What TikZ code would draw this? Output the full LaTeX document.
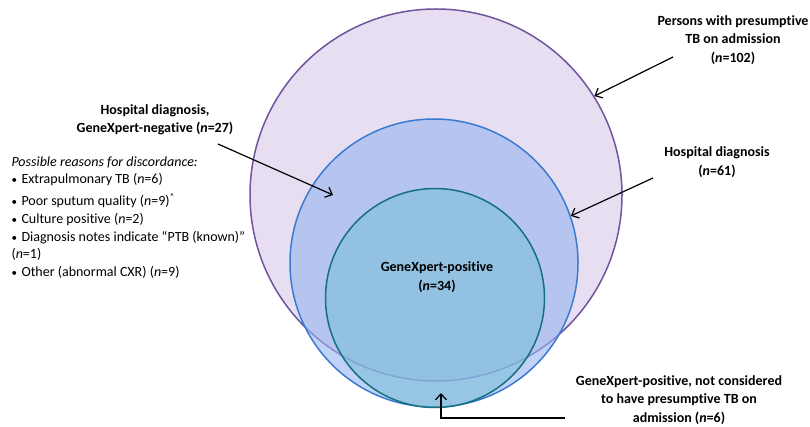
\documentclass[tikz,border=0pt]{standalone}
\usepackage{fontspec}
\setmainfont{Carlito}[Ligatures=NoCommon]
\usetikzlibrary{arrows.meta}
\definecolor{ringpurple}{RGB}{112,84,160}
\definecolor{fillpurple}{RGB}{231,223,241}
\definecolor{ringblue}{RGB}{58,122,208}
\definecolor{fillblue}{RGB}{150,180,240}
\definecolor{ringteal}{RGB}{22,112,128}
\definecolor{fillteal}{RGB}{118,190,214}
\newcommand{\reasonitem}{{\fontsize{11}{11}\selectfont •}\hspace{4.5pt}}

\begin{document}
\begin{tikzpicture}[x=1pt, y=-1pt,
    venn/.style={circle, draw, inner sep=0pt, line width=1.5pt},
    labeltext/.style={align=center, font=\fontsize{14}{18.5}\selectfont\bfseries},
    pointer/.style={-{Straight Barb[length=6pt,width=11pt]}, line width=1.2pt}]
    \useasboundingbox (0,0) rectangle (810,427);
    % Circles
    \node[venn, draw=ringpurple, fill=fillpurple, minimum size=372pt] (presumptive) at (436,195) {};
    \node[venn, draw=ringblue, fill=fillblue, fill opacity=0.6, minimum size=288pt] (hospital) at (434,263) {};
    \node[venn, draw=ringteal, fill=fillteal, fill opacity=0.55, minimum size=219pt] (xpert) at (435,298) {};
    % Labels
    \node[labeltext] (xpertpos) at (437,277) {GeneXpert-positive\\(\textit{n}=34)};
    \node[labeltext] (persons) at (733,40) {Persons with presumptive\\TB on admission\\(\textit{n}=102)};
    \node[labeltext] (hospdiag) at (717,162) {Hospital diagnosis\\(\textit{n}=61)};
    \node[labeltext] (hospneg) at (155,120) {Hospital diagnosis,\\GeneXpert-negative (\textit{n}=27)};
    \node[labeltext] (notpresumptive) at (679,400) {GeneXpert-positive, not considered\\to have presumptive TB on\\admission (\textit{n}=6)};
    \node[anchor=north west, align=left, font=\fontsize{14}{17.7}\selectfont] (reasons) at (8,153) {
        \textit{Possible reasons for discordance:}\\
        \reasonitem Extrapulmonary TB (\textit{n}=6)\\[4pt]
        \reasonitem Poor sputum quality (\textit{n}=9)\textsuperscript{*}\\
        \reasonitem Culture positive (\textit{n}=2)\\
        \reasonitem Diagnosis notes indicate “PTB (known)”\\
        (\textit{n}=1)\\
        \reasonitem Other (abnormal CXR) (\textit{n}=9)};
    % Arrows
    \coordinate (negtail) at (218,144);
    \coordinate (negtip) at (333,195);
    \draw[pointer] (negtail) -- (negtip);
    \coordinate (personstail) at (673,57);
    \draw[pointer] (personstail) -- (presumptive.32);
    \coordinate (hosptail) at (653,178);
    \draw[pointer] (hosptail) -- (hospital.19);
    \coordinate (bottomtail) at (565,418);
    \coordinate (bottomtip) at (441,393);
    \draw[pointer] (bottomtail) -| (bottomtip);
\end{tikzpicture}
\end{document}
